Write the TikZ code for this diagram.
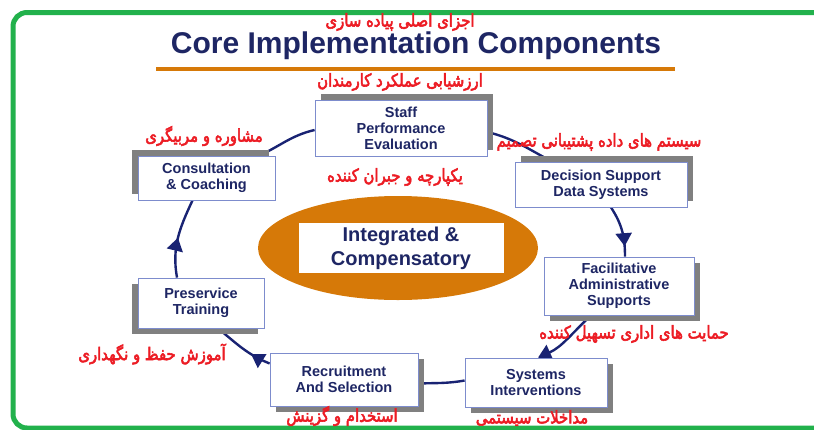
\documentclass[tikz,border=0pt]{standalone}
\usepackage{fontspec}
\setmainfont{Liberation Sans}
\newfontfamily\farsi[Script=Arabic, FakeBold=3, FakeStretch=0.85]{DejaVu Sans}
\usetikzlibrary{shapes.geometric,shadows,arrows.meta,decorations.markings,backgrounds}
\TeXXeTstate=1
\definecolor{navy}{RGB}{30,38,100}
\definecolor{ringblue}{RGB}{25,35,115}
\definecolor{farsired}{RGB}{236,28,36}
\definecolor{coreorange}{RGB}{214,121,8}
\definecolor{framegreen}{RGB}{34,177,76}
\definecolor{boxedge}{RGB}{125,140,205}
\definecolor{shgray}{RGB}{128,128,128}
\newcommand{\fatext}[1]{{\farsi\beginR #1\endR}}
\tikzset{
  comp/.style={draw=boxedge, line width=0.8pt, fill=white, align=center, text=navy,
    font=\bfseries\fontsize{14.5}{16}\selectfont, inner sep=0pt},
  shNE/.style={drop shadow={shadow xshift=6pt,shadow yshift=6pt,fill=shgray,opacity=1}},
  shNW/.style={drop shadow={shadow xshift=-6pt,shadow yshift=6pt,fill=shgray,opacity=1}},
  shSE/.style={drop shadow={shadow xshift=6pt,shadow yshift=-6pt,fill=shgray,opacity=1}},
  shSW/.style={drop shadow={shadow xshift=-6pt,shadow yshift=-6pt,fill=shgray,opacity=1}},
  fa/.style={text=farsired, font=\fontsize{17.5}{19}\selectfont, inner sep=0pt},
  ring/.style={draw=ringblue, line width=2.4pt},
  ringtip/.style={ring, decoration={markings,
    mark=at position #1 with {\arrow{Triangle[length=13pt,width=16pt]}}},
    postaction={decorate}},
}
\begin{document}
\begin{tikzpicture}[x=1pt,y=1pt]
   \useasboundingbox (0,0) rectangle (814,-429);
   \draw[framegreen, line width=5pt, rounded corners=14pt] (13,-12.5) rectangle (880,-428);

   \node[fa] (ttlfa) at (400,-22) {\fatext{اجزای اصلی پیاده سازی}};
   \node[anchor=base, text=navy, font=\bfseries\fontsize{30}{32}\selectfont] (ttl) at (416,-53) {Core Implementation Components};
   \draw[coreorange, line width=4pt] (156,-69) -- (675,-69);

   \node[ellipse, fill=coreorange, minimum width=280pt, minimum height=104pt] (core) at (398,-248) {};
   \node[fill=white, minimum width=205pt, minimum height=50pt, align=center, text=navy,
         font=\bfseries\fontsize{20}{24}\selectfont] (integ) at (401,-248) {Integrated \&\\Compensatory};

   \node[comp, shNE, minimum width=172pt, minimum height=56pt] (staff) at (401,-128) {Staff\\Performance\\Evaluation};
   \node[comp, shNW, minimum width=137pt, minimum height=44pt] (cons) at (206.5,-178) {Consultation\\\& Coaching};
   \node[comp, shNE, minimum width=172pt, minimum height=45pt] (dss) at (601,-184.5) {Decision Support\\Data Systems};
   \node[comp, shSE, minimum width=150pt, minimum height=58pt] (fas) at (619,-286) {Facilitative\\Administrative\\Supports};
   \node[comp, shSE, minimum width=142pt, minimum height=49pt] (sys) at (536,-382.5) {Systems\\Interventions};
   \node[comp, shSE, minimum width=148pt, minimum height=53pt] (rec) at (344,-379.5) {Recruitment\\And Selection};
   \node[comp, shSW, minimum width=126pt, minimum height=50pt] (pres) at (201,-303) {Preservice\\Training};

   \node[fa] (staffa) at (400,-82) {\fatext{ارزشیابی عملکرد کارمندان}};
   \node[fa] (consfa) at (204,-136) {\fatext{مشاوره و مربیگری}};
   \node[fa] (dssfa) at (599,-142) {\fatext{سیستم های داده پشتیبانی تصمیم}};
   \node[fa] (integfa) at (395,-177) {\fatext{یکپارچه و جبران کننده}};
   \node[fa] (fasfa) at (634,-334) {\fatext{حمایت های اداری تسهیل کننده}};
   \node[fa] (presfa) at (152,-354) {\fatext{آموزش حفظ و نگهداری}};
   \node[fa] (recfa) at (342,-416) {\fatext{استخدام و گزینش}};
   \node[fa] (sysfa) at (532,-418) {\fatext{مداخلات سیستمی}};

   \begin{scope}[on background layer]
      \draw[ring] ([xshift=-16pt]cons.north east) to[out=25,in=193] ([yshift=-2pt]staff.west);
      \draw[ring] ([yshift=-4pt]staff.east) to[out=-14,in=152] ([xshift=-49pt]dss.north);
      \draw[ringtip=0.8] ([xshift=10pt]dss.south) to[out=-57,in=90] ([xshift=6pt]fas.north);
      \draw[ring, -{Triangle[length=13pt,width=16pt]}] ([xshift=-28pt]fas.south) to[out=-137,in=24] ([xshift=2pt]sys.north);
      \draw[ring] ([yshift=2pt]sys.west) to[out=190,in=2] ([yshift=-4pt]rec.east);
      \draw[ringtip=0.33] ([yshift=16pt]rec.west) to[out=158,in=-39] ([xshift=17pt]pres.south);
      \draw[ringtip=0.5] ([xshift=-24pt]pres.north) to[out=100,in=-115] ([xshift=-14pt]cons.south);
   \end{scope}
\end{tikzpicture}
\end{document}
